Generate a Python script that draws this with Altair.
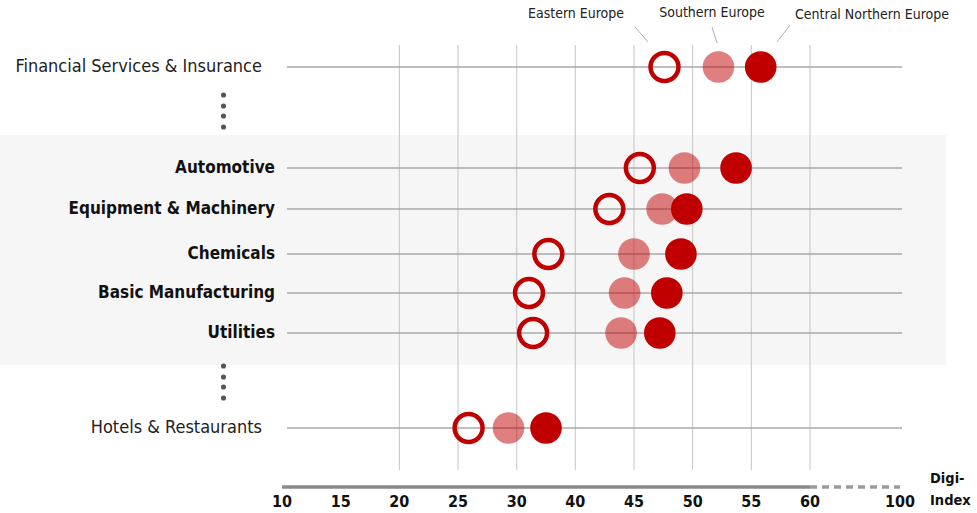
import altair as alt
import pandas as pd

# ---------------- data ----------------
industries = [
    "Financial Services & Insurance",
    "Automotive",
    "Equipment & Machinery",
    "Chemicals",
    "Basic Manufacturing",
    "Utilities",
    "Hotels & Restaurants",
]
eastern = [47.6, 45.5, 42.9, 35.4, 32.1, 32.8, 25.9]
southern = [52.2, 49.3, 47.4, 45.0, 44.2, 43.9, 29.3]
central = [55.8, 53.7, 49.5, 49.0, 47.8, 47.2, 35.0]
highlighted = ["Automotive", "Equipment & Machinery", "Chemicals",
               "Basic Manufacturing", "Utilities"]
regions = ["Eastern Europe", "Southern Europe", "Central Northern Europe"]
tick_values = [10, 15, 20, 25, 30, 40, 45, 50, 55, 60, 100]
grid_values = [20, 25, 30, 40, 45, 50, 55, 60]
axis_title = ["Digi-", "Index"]

# ---------------- styles ----------------
RED = "#c00000"
FONT = "DejaVu Sans Condensed, Liberation Sans, sans-serif"
GRID = "#c4c4c4"
ROWLINE = "#a9a9a9"

rows = pd.DataFrame({
    "industry": industries,
    "row": list(range(len(industries))),
    "highlight": [i in highlighted for i in industries],
})
pts = pd.DataFrame({
    "row": list(range(len(industries))) * 3,
    "region": [regions[0]] * 7 + [regions[1]] * 7 + [regions[2]] * 7,
    "value": eastern + southern + central,
})
ticks = pd.DataFrame({"tick": tick_values})
grid = pd.DataFrame({"grid": grid_values})
axis_solid = pd.DataFrame({"start": [tick_values[0]], "end": [tick_values[-2]]})
axis_dash = pd.DataFrame({"start": [tick_values[-2]], "end": [tick_values[-1]]})
one = pd.DataFrame({"k": [0]})

X_SCALE = alt.Scale(domain=[10, 30, 40, 60, 100],
                    range=[282, 516.7, 575.3, 810, 900],
                    nice=False, zero=False)
Y_SCALE = alt.Scale(domain=list(range(7)),
                    range=[67, 168, 209, 254, 293, 333, 428],
                    nice=False, zero=False)


def X(field):
    return alt.X(f"{field}:Q", scale=X_SCALE, axis=None)


def Y(field):
    return alt.Y(f"{field}:Q", scale=Y_SCALE, axis=None)


band = alt.Chart(one).mark_rect(color="#f6f6f6").encode(
    x=alt.value(0), x2=alt.value(946), y=alt.value(135), y2=alt.value(365))

gridlines = alt.Chart(grid).mark_rule(color=GRID, strokeWidth=1).encode(
    x=X("grid"), y=alt.value(45), y2=alt.value(470))

rowlines = alt.Chart(rows).mark_rule(color=ROWLINE, strokeWidth=1.5).encode(
    x=alt.value(287), x2=alt.value(902), y=Y("row"))

south = alt.Chart(pts).transform_filter(
    alt.datum.region == regions[1]).mark_circle(
    color=RED, opacity=0.5, size=1000).encode(x=X("value"), y=Y("row"))
cent = alt.Chart(pts).transform_filter(
    alt.datum.region == regions[2]).mark_circle(
    color=RED, opacity=1, size=1000).encode(x=X("value"), y=Y("row"))
east = alt.Chart(pts).transform_filter(
    alt.datum.region == regions[0]).mark_point(
    shape="circle", filled=False, stroke=RED, strokeWidth=4.5,
    size=780, opacity=1).encode(x=X("value"), y=Y("row"))

lab_norm = alt.Chart(rows).transform_filter(~alt.datum.highlight).mark_text(
    align="right", baseline="middle", font=FONT, fontSize=18,
    color="#222").encode(x=alt.value(262), y=Y("row"), text="industry:N")
lab_bold = alt.Chart(rows).transform_filter(alt.datum.highlight).mark_text(
    align="right", baseline="middle", font=FONT, fontSize=17,
    fontWeight="bold", color="#111").encode(
    x=alt.value(275), y=Y("row"), text="industry:N")

ax_solid = alt.Chart(axis_solid).mark_rule(
    color="#8a8a8a", strokeWidth=3.5).encode(
    x=X("start"), x2="end:Q", y=alt.value(487))
ax_dash = alt.Chart(axis_dash).mark_rule(
    color="#9a9a9a", strokeWidth=3.5, strokeDash=[7, 5]).encode(
    x=X("start"), x2="end:Q", y=alt.value(487))
tick_labels = alt.Chart(ticks).mark_text(
    align="center", baseline="middle", font=FONT, fontSize=16,
    fontWeight="bold", color="#111").encode(
    x=X("tick"), y=alt.value(502), text="tick:N")

title_layers = [
    alt.Chart(one).mark_text(align="left", baseline="middle", font=FONT,
                             fontSize=14.5, fontWeight="bold", color="#111")
    .encode(x=alt.value(930), y=alt.value(y), text=alt.value(t))
    for t, y in zip(axis_title, [479, 501])
]


def dot(x, y):
    return alt.Chart(one).mark_circle(size=26, color="#555", opacity=1).encode(
        x=alt.value(x), y=alt.value(y))


dots = [dot(223.5, y) for y in [95, 106, 116, 127, 366, 377, 387, 398]]

ann_pos = [(576, 14), (712, 13), (872, 15)]
ann_text = [
    alt.Chart(one).mark_text(align="center", baseline="middle", font=FONT,
                             fontSize=14, color="#222")
    .encode(x=alt.value(x), y=alt.value(y), text=alt.value(t))
    for t, (x, y) in zip(regions, ann_pos)
]
leader = [((635, 27), (648, 42)), ((712, 27), (717, 43)), ((790, 25), (777, 42))]
ann_lines = [
    alt.Chart(one).mark_rule(color="#b0b0b0", strokeWidth=1).encode(
        x=alt.value(a[0]), y=alt.value(a[1]), x2=alt.value(b[0]), y2=alt.value(b[1]))
    for a, b in leader
]

chart = alt.layer(
    band, gridlines, rowlines, south, cent, east, lab_norm, lab_bold,
    ax_solid, ax_dash, tick_labels, *title_layers, *dots, *ann_lines, *ann_text
).properties(
    width=977, height=513,
    autosize=alt.AutoSizeParams(type="none"),
    padding=0,
    background="white",
).configure_view(stroke=None)

chart.save("out.html", embed_options={"renderer": "svg", "actions": False})
